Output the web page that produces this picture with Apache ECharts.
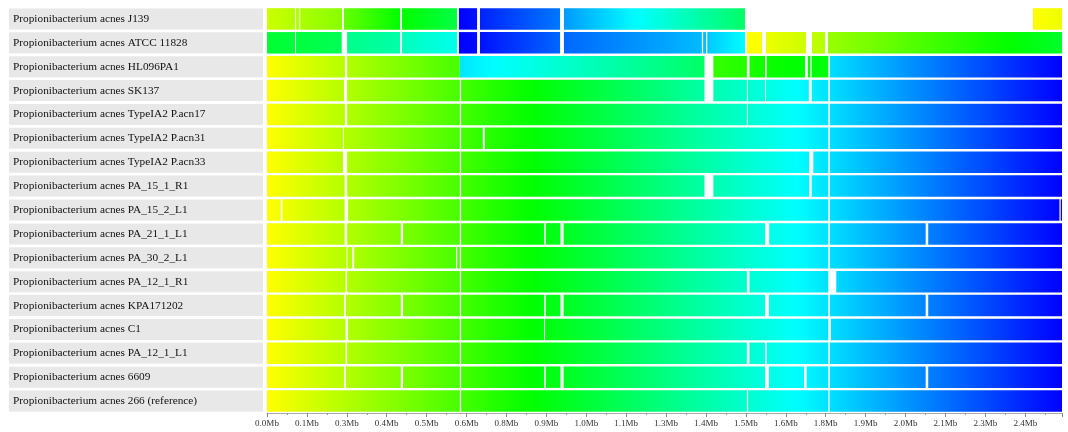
<!DOCTYPE html>
<html>
<head>
<meta charset="utf-8">
<script src="https://cdn.jsdelivr.net/npm/echarts@6/dist/echarts.min.js"></script>
<style>
  html, body { margin: 0; padding: 0; background: #fff; }
  #chart { width: 1068px; height: 432px; }
</style>
</head>
<body>
<div id="chart"></div>
<script>
// reference genome length (Mb) - colour of a block = its position on the reference
const REF_LEN = 2.49;
const TICK_STEP = 0.125;

const genomes = [
  'Propionibacterium acnes J139',
  'Propionibacterium acnes ATCC 11828',
  'Propionibacterium acnes HL096PA1',
  'Propionibacterium acnes SK137',
  'Propionibacterium acnes TypeIA2 P.acn17',
  'Propionibacterium acnes TypeIA2 P.acn31',
  'Propionibacterium acnes TypeIA2 P.acn33',
  'Propionibacterium acnes PA_15_1_R1',
  'Propionibacterium acnes PA_15_2_L1',
  'Propionibacterium acnes PA_21_1_L1',
  'Propionibacterium acnes PA_30_2_L1',
  'Propionibacterium acnes PA_12_1_R1',
  'Propionibacterium acnes KPA171202',
  'Propionibacterium acnes C1',
  'Propionibacterium acnes PA_12_1_L1',
  'Propionibacterium acnes 6609',
  'Propionibacterium acnes 266 (reference)'
];

// blocks: [start, end, refStart, refEnd] in Mb
const blocksJ139 = [
  [0, 0.088, 0.166, 0.25], [0.091, 0.101, 0.25, 0.27], [0.104, 0.235, 0.27, 0.387],
  [0.241, 0.417, 0.498, 0.83], [0.423, 0.595, 0.83, 1.051],
  [0.601, 0.658, 2.49, 2.435], [0.667, 0.918, 2.379, 2.103],
  [0.93, 1.497, 1.992, 1.162], [2.399, 2.49, 0, 0.055]
];
const blocksATCC11828 = [
  [0, 0.088, 0.99, 1.03], [0.091, 0.234, 1.03, 1.107],
  [0.251, 0.417, 1.273, 1.383], [0.423, 0.595, 1.439, 1.605],
  [0.601, 0.658, 2.49, 2.45], [0.667, 0.918, 2.435, 2.158],
  [0.93, 1.362, 2.158, 1.881], [1.366, 1.375, 1.87, 1.86], [1.379, 1.497, 1.84, 1.66],
  [1.503, 1.55, 0, 0.02], [1.563, 1.688, 0.055, 0.166], [1.707, 1.748, 0.207, 0.24],
  [1.757, 2.49, 0.332, 0.97]
];
const blocksHL096PA1 = [
  [0, 0.244, 0, 0.244], [0.251, 0.604, 0.251, 0.604],
  [0.604, 1.37, 1.743, 1.162],
  [1.398, 1.503, 0.66, 0.72], [1.511, 1.56, 0.74, 0.78], [1.565, 1.685, 0.8, 0.84],
  [1.694, 1.702, 0.845, 0.85], [1.706, 1.758, 0.85, 0.87],
  [1.763, 2.49, 1.763, 2.49]
];
const blocksSK137 = [
  [0, 0.241, 0, 0.241], [0.251, 0.604, 0.251, 0.604], [0.608, 1.37, 0.608, 1.37],
  [1.398, 1.503, 1.398, 1.503], [1.506, 1.56, 1.506, 1.56], [1.563, 1.697, 1.563, 1.697],
  [1.706, 1.758, 1.706, 1.758], [1.763, 2.49, 1.763, 2.49]
];
const blocksAcn17 = [
  [0, 0.244, 0, 0.244], [0.251, 0.604, 0.251, 0.604], [0.608, 1.503, 0.608, 1.503],
  [1.506, 1.758, 1.506, 1.758], [1.763, 2.49, 1.763, 2.49]
];
const blocksAcn31 = [
  [0, 0.238, 0, 0.238], [0.241, 0.604, 0.241, 0.604], [0.608, 0.676, 0.608, 0.676],
  [0.682, 1.758, 0.682, 1.758], [1.763, 2.49, 1.763, 2.49]
];
const blocksAcn33 = [
  [0, 0.238, 0, 0.238], [0.251, 0.604, 0.251, 0.604], [0.608, 1.698, 0.608, 1.698],
  [1.711, 1.758, 1.711, 1.758], [1.763, 2.49, 1.763, 2.49]
];
const blocksPA15_1_R1 = [
  [0, 0.243, 0, 0.243], [0.251, 0.604, 0.251, 0.604], [0.608, 1.37, 0.608, 1.37],
  [1.398, 1.698, 1.398, 1.698], [1.706, 1.758, 1.706, 1.758], [1.763, 2.49, 1.763, 2.49]
];
const blocksPA15_2_L1 = [
  [0, 0.043, 0, 0.043], [0.048, 0.243, 0.048, 0.243], [0.254, 0.604, 0.254, 0.604],
  [0.608, 1.758, 0.608, 1.758], [1.763, 2.482, 1.763, 2.482], [2.486, 2.49, 2.486, 2.49]
];
const blocksPA21_1_L1 = [
  [0, 0.243, 0, 0.243], [0.251, 0.419, 0.251, 0.419], [0.426, 0.604, 0.426, 0.604],
  [0.608, 0.868, 0.608, 0.868], [0.873, 0.919, 0.873, 0.919], [0.929, 1.56, 0.929, 1.56],
  [1.573, 1.758, 1.573, 1.758], [1.763, 2.063, 1.763, 2.063], [2.071, 2.49, 2.071, 2.49]
];
const blocksPA30_2_L1 = [
  [0, 0.249, 0, 0.249], [0.252, 0.267, 0.252, 0.267], [0.273, 0.592, 0.273, 0.592],
  [0.596, 0.604, 0.596, 0.604], [0.608, 1.758, 0.608, 1.758], [1.763, 2.49, 1.763, 2.49]
];
const blocksPA12_1_R1 = [
  [0, 0.246, 0, 0.246], [0.251, 0.604, 0.251, 0.604], [0.608, 1.503, 0.608, 1.503],
  [1.511, 1.758, 1.511, 1.758], [1.783, 2.49, 1.783, 2.49]
];
const blocksKPA171202 = [
  [0, 0.241, 0, 0.241], [0.247, 0.419, 0.247, 0.419], [0.426, 0.604, 0.426, 0.604],
  [0.608, 0.868, 0.608, 0.868], [0.873, 0.919, 0.873, 0.919], [0.929, 1.56, 0.929, 1.56],
  [1.572, 1.758, 1.572, 1.758], [1.763, 2.063, 1.763, 2.063], [2.071, 2.49, 2.071, 2.49]
];
const blocksC1 = [
  [0, 0.246, 0, 0.246], [0.254, 0.604, 0.254, 0.604], [0.608, 0.868, 0.608, 0.868],
  [0.871, 1.758, 0.871, 1.758], [1.766, 2.49, 1.766, 2.49]
];
const blocksPA12_1_L1 = [
  [0, 0.246, 0, 0.246], [0.251, 0.604, 0.251, 0.604], [0.608, 1.503, 0.608, 1.503],
  [1.511, 1.56, 1.511, 1.56], [1.565, 1.758, 1.565, 1.758], [1.763, 2.49, 1.763, 2.49]
];
const blocks6609 = [
  [0, 0.241, 0, 0.241], [0.247, 0.419, 0.247, 0.419], [0.426, 0.604, 0.426, 0.604],
  [0.608, 0.868, 0.608, 0.868], [0.873, 0.919, 0.873, 0.919], [0.929, 1.56, 0.929, 1.56],
  [1.572, 1.682, 1.572, 1.682], [1.69, 1.758, 1.69, 1.758],
  [1.763, 2.063, 1.763, 2.063], [2.071, 2.49, 2.071, 2.49]
];
const blocks266 = [
  [0, 0.604, 0, 0.604], [0.608, 1.503, 0.608, 1.503],
  [1.507, 1.758, 1.507, 1.758], [1.762, 2.49, 1.762, 2.49]
];

const rowBlocks = [
  blocksJ139, blocksATCC11828, blocksHL096PA1, blocksSK137, blocksAcn17, blocksAcn31,
  blocksAcn33, blocksPA15_1_R1, blocksPA15_2_L1, blocksPA21_1_L1, blocksPA30_2_L1,
  blocksPA12_1_R1, blocksKPA171202, blocksC1, blocksPA12_1_L1, blocks6609, blocks266
];

let seriesData = [];
rowBlocks.forEach((blocks, row) => {
  blocks.forEach(b => seriesData.push([row, b[0], b[1], b[2], b[3]]));
});

function refColor(pos) {
  // yellow -> green -> cyan -> blue along the reference
  return 'hsl(' + (60 + 180 * pos / REF_LEN).toFixed(1) + ',100%,50%)';
}

function renderBlock(params, api) {
  const row = api.value(0);
  const p0 = api.coord([api.value(1), row]);
  const p1 = api.coord([api.value(2), row]);
  const h = api.size([0, 1])[1] * 0.9;
  const rs = api.value(3), re = api.value(4);
  // several stops so the gradient follows the hue wheel, not a straight RGB blend
  const n = Math.max(2, Math.ceil(Math.abs(re - rs) / 0.04) + 1);
  let stops = [];
  for (let i = 0; i < n; i++) {
    const t = i / (n - 1);
    stops.push({ offset: t, color: refColor(rs + (re - rs) * t) });
  }
  return {
    type: 'rect',
    shape: { x: p0[0], y: p0[1] - h / 2, width: p1[0] - p0[0], height: h },
    style: { fill: new echarts.graphic.LinearGradient(0, 0, 1, 0, stops) }
  };
}

const chart = echarts.init(document.getElementById('chart'));
const option = {
  animation: false,
  backgroundColor: '#fff',
  grid: { left: 267, right: 6, top: 7, height: 406 },
  xAxis: {
    type: 'value',
    min: 0,
    max: REF_LEN,
    interval: TICK_STEP,
    axisLine: { show: true, lineStyle: { color: '#aaa', width: 1 } },
    axisTick: { show: true, length: 4, lineStyle: { color: '#888' } },
    minorTick: { show: true, splitNumber: 2, length: 2, lineStyle: { color: '#999' } },
    splitLine: { show: false },
    axisLabel: {
      showMaxLabel: false,
      margin: 6,
      fontSize: 9,
      fontFamily: 'Liberation Serif',
      color: '#333',
      formatter: v => {
        const k = v / TICK_STEP;
        if (Math.abs(k - Math.round(k)) > 1e-6) return '';
        return v.toFixed(1) + 'Mb';
      }
    }
  },
  yAxis: {
    type: 'category',
    inverse: true,
    data: genomes,
    axisLine: { show: false },
    axisTick: { show: false },
    splitLine: { show: false },
    axisLabel: {
      align: 'left',
      margin: 258,
      width: 250,
      height: 21,
      lineHeight: 21,
      padding: [0, 0, 0, 4],
      backgroundColor: '#e8e8e8',
      fontSize: 11.3,
      fontFamily: 'Liberation Serif',
      color: '#111'
    }
  },
  series: [{
    type: 'custom',
    renderItem: renderBlock,
    encode: { x: [1, 2], y: 0 },
    data: seriesData
  }]
};
chart.setOption(option);
</script>
</body>
</html>
